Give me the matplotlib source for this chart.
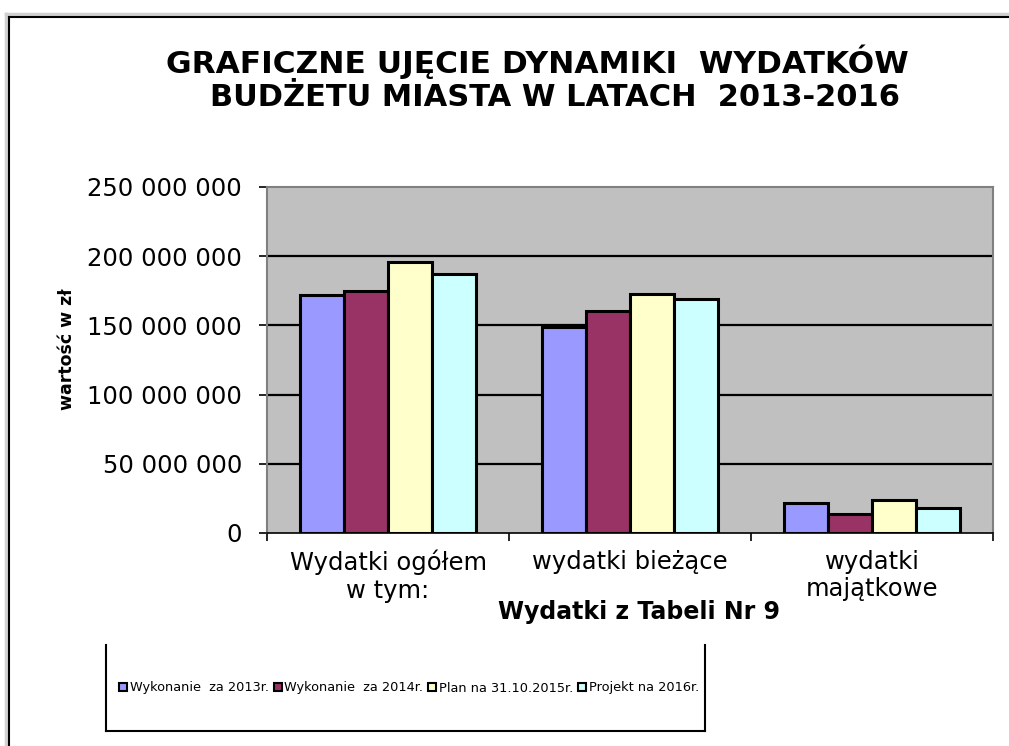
import numpy as np
import matplotlib
matplotlib.use("Agg")
import matplotlib.pyplot as plt
from matplotlib.patches import Patch
from matplotlib.lines import Line2D

plt.rcParams['font.family'] = ['DejaVu Sans']

# data
categories = ['Wydatki ogółem\nw tym:', 'wydatki bieżące', 'wydatki\nmajątkowe']
series_names = ['Wykonanie  za 2013r.', 'Wykonanie  za 2014r.',
                'Plan na 31.10.2015r.', 'Projekt na 2016r.']
wyk_2013 = [172_000_000, 149_000_000, 22_000_000]
wyk_2014 = [174_500_000, 160_500_000, 13_700_000]
plan_2015 = [196_000_000, 172_700_000, 23_800_000]
proj_2016 = [187_500_000, 169_000_000, 18_000_000]
series = [wyk_2013, wyk_2014, plan_2015, proj_2016]
colors = ['#9999FF', '#993366', '#FFFFCC', '#CCFFFF']
y_ticks = [0, 50_000_000, 100_000_000, 150_000_000, 200_000_000, 250_000_000]

fig = plt.figure(figsize=(10.09, 7.46), dpi=100)
fig.patch.set_facecolor('white')

W, H = 1009, 746
def px(x, y):
    return x / W, 1 - y / H

def fig_line(x0, y0, x1, y1, color, lw):
    (a, b), (c, d) = px(x0, y0), px(x1, y1)
    fig.add_artist(Line2D([a, c], [b, d], color=color, lw=lw, transform=fig.transFigure))

# frame around the chart (gray outer, black inner)
fig_line(6, 14, 1009, 14, '#d0d0d0', 2.5)
fig_line(6, 14, 6, 746, '#d0d0d0', 2.5)
fig_line(9, 16.5, 1009, 16.5, 'black', 1.5)
fig_line(9, 16.5, 9, 746, 'black', 1.5)

ax = fig.add_axes([267 / W, 1 - 533 / H, 726 / W, 346 / H])
ax.set_facecolor('#C0C0C0')

x = np.arange(len(categories))
w = 1 / 5.5
for i, (vals, col) in enumerate(zip(series, colors)):
    ax.bar(x + (i - 1.5) * w, vals, width=w, color=col, edgecolor='black',
           linewidth=2.2, zorder=3)

ax.set_xlim(-0.5, 2.5)
ax.set_ylim(0, 250_000_000)
ax.set_yticks(y_ticks)
ax.set_yticklabels([f"{v:,.0f}".replace(",", " ") for v in y_ticks], fontsize=17.5)
for v in y_ticks[1:-1]:
    ax.axhline(v, color='black', lw=1.6, zorder=1)

for s in ['top', 'right', 'left']:
    ax.spines[s].set_color('#808080')
    ax.spines[s].set_linewidth(1.5)
ax.spines['bottom'].set_color('black')
ax.spines['bottom'].set_linewidth(1.2)
ax.tick_params(axis='y', direction='out', length=6, width=1.2, pad=12)

ax.set_xticks(x)
ax.set_xticklabels(categories, fontsize=17.5, linespacing=1.2)
ax.tick_params(axis='x', which='major', length=0, pad=12)
ax.set_xticks([-0.5, 0.5, 1.5, 2.5], minor=True)
ax.tick_params(axis='x', which='minor', direction='out', length=6, width=1.2)

ax.set_ylabel('wartość w zł', fontsize=12.5, fontweight='bold')
ax.yaxis.set_label_coords((76 - 267) / 726, 0.53)
ax.set_xlabel('Wydatki z Tabeli Nr 9', fontsize=17, fontweight='bold')
ax.xaxis.set_label_coords((639 - 267) / 726, -(612 - 533) / 346)
ax.xaxis.label.set_va('center')

fig.text(537 / W, 1 - 62 / H, 'GRAFICZNE UJĘCIE DYNAMIKI  WYDATKÓW',
         ha='center', va='center', fontsize=22.5, fontweight='bold')
fig.text(555 / W, 1 - 97 / H, 'BUDŻETU MIASTA W LATACH  2013-2016',
         ha='center', va='center', fontsize=22, fontweight='bold')

# legend box (left, bottom, right edges only)
fig_line(106, 645, 106, 731, 'black', 1.5)
fig_line(106, 731, 705, 731, 'black', 1.5)
fig_line(705, 645, 705, 731, 'black', 1.5)

handles = [Patch(facecolor=c, edgecolor='black', linewidth=1.5) for c in colors]
fig.legend(handles, series_names, loc='center', bbox_to_anchor=(409 / W, 1 - 688 / H),
           ncol=4, frameon=False, fontsize=9.3, handlelength=0.65, handleheight=0.65,
           handletextpad=0.2, columnspacing=0.35, borderaxespad=0)

fig.savefig('out.png', dpi=100)
